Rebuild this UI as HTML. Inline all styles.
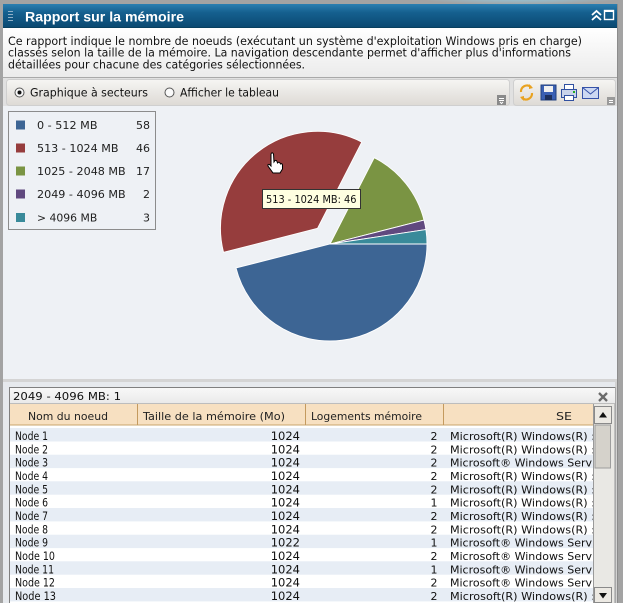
<!DOCTYPE html>
<html><head><meta charset="utf-8"><style>
html,body{margin:0;padding:0;background:#a3a3a3;}
svg{display:block;}
text{font-family:"DejaVu Sans","Liberation Sans",sans-serif;}
.t{font-family:"Liberation Sans",sans-serif;}
</style></head><body>
<svg width="623" height="603" viewBox="0 0 623 603" xmlns="http://www.w3.org/2000/svg">
<defs>
<linearGradient id="tg" x1="0" y1="0" x2="0" y2="1">
<stop offset="0" stop-color="#2b7fb1"/><stop offset="0.35" stop-color="#15608f"/><stop offset="1" stop-color="#0a4870"/>
</linearGradient>
<radialGradient id="hl" cx="0.5" cy="0" r="0.5">
<stop offset="0" stop-color="#8fd6f2" stop-opacity="0.9"/><stop offset="1" stop-color="#8fd6f2" stop-opacity="0"/>
</radialGradient>
<linearGradient id="dg" x1="0" y1="0" x2="0" y2="1">
<stop offset="0" stop-color="#ffffff"/><stop offset="1" stop-color="#ebebeb"/>
</linearGradient>
<linearGradient id="tb" x1="0" y1="0" x2="0" y2="1">
<stop offset="0" stop-color="#f6f5f3"/><stop offset="1" stop-color="#dddad5"/>
</linearGradient>
<linearGradient id="cg" x1="0" y1="0" x2="0" y2="1">
<stop offset="0" stop-color="#f8f8f8"/><stop offset="1" stop-color="#e9e9e9"/>
</linearGradient>
<clipPath id="seclip"><rect x="444" y="404" width="149" height="199"/></clipPath>
</defs>

<!-- frame -->
<rect x="0" y="0" width="623" height="603" fill="#a3a3a3"/>
<rect x="3" y="28" width="614" height="575" fill="#e3e6ea"/>

<!-- title bar -->
<rect x="3" y="4" width="614" height="24" fill="url(#tg)"/>
<ellipse cx="520" cy="5" rx="110" ry="9" fill="url(#hl)"/>
<line x1="3" y1="27.5" x2="617" y2="27.5" stroke="#08405f"/>
<g stroke="#8fb0c8" stroke-width="1">
<line x1="8" y1="11.5" x2="13" y2="11.5"/><line x1="8" y1="14.5" x2="13" y2="14.5"/>
<line x1="8" y1="17.5" x2="13" y2="17.5"/><line x1="8" y1="20.5" x2="13" y2="20.5"/>
</g>
<text x="25" y="21.5" font-size="13.5" font-weight="bold" fill="#fff" class="t" textLength="159" lengthAdjust="spacingAndGlyphs">Rapport sur la mémoire</text>
<g fill="none" stroke="#fff" stroke-width="1.8">
<polyline points="592,15 596.5,11 601,15"/>
<polyline points="592,20 596.5,16 601,20"/>
</g>
<rect x="604.5" y="10.5" width="9" height="9" fill="none" stroke="#fff" stroke-width="1.4"/>
<line x1="604" y1="11" x2="614" y2="11" stroke="#fff" stroke-width="2"/>

<!-- description -->
<rect x="3" y="28" width="614" height="49" fill="url(#dg)"/>
<line x1="3" y1="77.5" x2="617" y2="77.5" stroke="#a9a9a9"/>
<text x="8" y="45" font-size="11.5" fill="#111" textLength="574" lengthAdjust="spacingAndGlyphs">Ce rapport indique le nombre de noeuds (exécutant un système d'exploitation Windows pris en charge)</text>
<text x="8" y="56.7" font-size="11.5" fill="#111" textLength="563" lengthAdjust="spacingAndGlyphs">classés selon la taille de la mémoire. La navigation descendante permet d'afficher plus d'informations</text>
<text x="8" y="68.3" font-size="11.5" fill="#111" textLength="297" lengthAdjust="spacingAndGlyphs">détaillées pour chacune des catégories sélectionnées.</text>

<!-- toolbar -->
<rect x="3" y="78" width="614" height="28" fill="#e1e1e1"/>
<rect x="6.5" y="79.5" width="503" height="26" rx="3" fill="url(#tb)" stroke="#cfcfcf"/>
<rect x="513.5" y="79.5" width="102" height="26" rx="3" fill="url(#tb)" stroke="#cfcfcf"/>
<circle cx="19.5" cy="92.5" r="4.5" fill="#fafafa" stroke="#555"/>
<circle cx="19.5" cy="92.5" r="2" fill="#111"/>
<text x="30" y="96.5" font-size="11.5" fill="#111" textLength="118" lengthAdjust="spacingAndGlyphs">Graphique à secteurs</text>
<circle cx="169.5" cy="92.5" r="4.5" fill="#fafafa" stroke="#555"/>
<text x="180" y="96.5" font-size="11.5" fill="#111" textLength="99" lengthAdjust="spacingAndGlyphs">Afficher le tableau</text>
<rect x="497" y="95" width="9" height="10" fill="#8a8a8a"/>
<path d="M499,98.5 h5 M499,100.5 h5 M500,102 l1.5,1.5 l1.5,-1.5" stroke="#fff" stroke-width="1" fill="none"/>
<rect x="607" y="97" width="8" height="8" fill="#9a9a9a"/>
<path d="M609,100.5 h4 M609,102.5 h4" stroke="#fff" stroke-width="1"/>
<!-- refresh -->
<g fill="none" stroke="#e9a21f" stroke-width="2.2">
<path d="M521,92 a6,6 0 0 1 10,-5"/>
<path d="M532,93 a6,6 0 0 1 -10,5"/>
</g>
<path d="M529,84 l4,4 l-4,1 z M524,101 l-4,-4 l4,-1 z" fill="#e9a21f"/>
<!-- save -->
<rect x="541" y="85" width="15" height="15" fill="#3a5fb3" stroke="#23407e"/>
<rect x="544" y="86" width="9" height="6" fill="#f0f0f0"/>
<rect x="545" y="95" width="7" height="5" fill="#1d2f5c"/>
<!-- print -->
<rect x="564.5" y="84.5" width="9" height="6" fill="#fff" stroke="#3050a0"/>
<rect x="561.5" y="89.5" width="15" height="8" fill="#c9d3ea" stroke="#3050a0"/>
<rect x="564.5" y="95.5" width="9" height="5" fill="#fff" stroke="#3050a0"/>
<rect x="573" y="91" width="2" height="2" fill="#2a2"/>
<!-- mail -->
<rect x="582.5" y="87.5" width="16" height="11" fill="#cdd8f2" stroke="#3652a8"/>
<polyline points="582.5,87.5 590.5,94 598.5,87.5" fill="none" stroke="#3652a8"/>

<!-- chart area -->
<rect x="3" y="106" width="614" height="273" fill="#eef1f5"/>

<!-- legend -->
<rect x="8.5" y="111.5" width="147" height="118" fill="#eef1f5" stroke="#8c8c8c"/>
<rect x="16" y="120.5" width="9" height="9" fill="#3d6594"/>
<rect x="16" y="143.5" width="9" height="9" fill="#963d3d"/>
<rect x="16" y="166.5" width="9" height="9" fill="#7a9443"/>
<rect x="16" y="189.5" width="9" height="9" fill="#60497f"/>
<rect x="16" y="213" width="9" height="9" fill="#398a9a"/>
<g font-size="11" fill="#222">
<text x="37" y="129" textLength="60.5" lengthAdjust="spacingAndGlyphs">0 - 512 MB</text>
<text x="37" y="152" textLength="81.5" lengthAdjust="spacingAndGlyphs">513 - 1024 MB</text>
<text x="37" y="175" textLength="88.7" lengthAdjust="spacingAndGlyphs">1025 - 2048 MB</text>
<text x="37" y="198" textLength="88.7" lengthAdjust="spacingAndGlyphs">2049 - 4096 MB</text>
<text x="37" y="221.5" textLength="60.3" lengthAdjust="spacingAndGlyphs">&gt; 4096 MB</text>
<text x="150" y="129" text-anchor="end">58</text>
<text x="150" y="152" text-anchor="end">46</text>
<text x="150" y="175" text-anchor="end">17</text>
<text x="150" y="198" text-anchor="end">2</text>
<text x="150" y="221.5" text-anchor="end">3</text>
</g>

<!-- pie -->
<g stroke="#ffffff" stroke-width="0.9" stroke-linejoin="round">
<path d="M330,244 L427,244 A97,97 0 0 1 236.0,267.94 Z" fill="#3d6594"/>
<path d="M317.53,228.36 L223.53,252.30 A97,97 0 0 1 361.78,142.04 Z" fill="#963d3d"/>
<path d="M330,244 L374.25,157.68 A97,97 0 0 1 424.0,220.06 Z" fill="#7a9443"/>
<path d="M330,244 L424.0,220.06 A97,97 0 0 1 425.92,229.54 Z" fill="#60497f"/>
<path d="M330,244 L425.92,229.54 A97,97 0 0 1 427,244 Z" fill="#398a9a"/>
</g>

<!-- cursor -->
<path d="M271,154 Q272,151.5 273.5,154 L274,162 L275,160.5 Q276.5,160 277,161.5 L277.5,163 Q279,161.5 280,163 L280.5,164 Q282,163 282.5,165 L282.5,169 L280,173 L273,173 L268,166 Q267.5,163.8 269.5,164.5 L271,166 Z" fill="#fff" stroke="#000" stroke-width="1"/>

<!-- tooltip -->
<rect x="262.5" y="189.5" width="98" height="19" fill="#ffffe1" stroke="#333"/>
<text x="266" y="203" font-size="11" fill="#111" textLength="90.5" lengthAdjust="spacingAndGlyphs">513 - 1024 MB: 46</text>

<!-- separator -->
<rect x="3" y="379" width="614" height="3" fill="#d4d4d4"/>
<rect x="3" y="382" width="614" height="221" fill="#e6e9ed"/>
<rect x="615" y="382" width="2" height="221" fill="#d2d2d2"/>

<!-- grid panel -->
<rect x="9.5" y="387.5" width="605.5" height="220" fill="#ffffff" stroke="#7f7f7f"/>
<rect x="10" y="388" width="605" height="15.5" fill="url(#cg)"/>
<line x1="10" y1="403.5" x2="615" y2="403.5" stroke="#bdbdbd"/>
<text x="13" y="400" font-size="11" fill="#111" textLength="108" lengthAdjust="spacingAndGlyphs">2049 - 4096 MB: 1</text>
<g stroke="#6a6a6a" stroke-width="2.3">
<line x1="599" y1="393" x2="607" y2="401"/><line x1="607" y1="393" x2="599" y2="401"/>
</g>

<!-- header -->
<rect x="10" y="404" width="583" height="21" fill="#f7e0c1"/>
<line x1="10" y1="425" x2="593" y2="425" stroke="#c9a46b"/>
<g stroke="#c49a5e">
<line x1="137.5" y1="404" x2="137.5" y2="425"/>
<line x1="305.5" y1="404" x2="305.5" y2="425"/>
<line x1="443.5" y1="404" x2="443.5" y2="425"/>
</g>
<g font-size="11" fill="#222">
<text x="28" y="420" textLength="80" lengthAdjust="spacingAndGlyphs">Nom du noeud</text>
<text x="143" y="420" textLength="142" lengthAdjust="spacingAndGlyphs">Taille de la mémoire (Mo)</text>
<text x="311" y="420" textLength="111" lengthAdjust="spacingAndGlyphs">Logements mémoire</text>
<text x="556" y="420" textLength="16" lengthAdjust="spacingAndGlyphs">SE</text>
</g>

<!-- rows -->
<g fill="#e7edf5">
<rect x="10" y="428" width="583" height="13.5"/>
<rect x="10" y="454.7" width="583" height="13.4"/>
<rect x="10" y="481.3" width="583" height="13.4"/>
<rect x="10" y="508" width="583" height="13.4"/>
<rect x="10" y="534.7" width="583" height="13.4"/>
<rect x="10" y="561.3" width="583" height="13.4"/>
<rect x="10" y="588" width="583" height="13.4"/>
</g>
<g class="t" font-size="11.5" fill="#111">
<text x="15" y="440" textLength="33" lengthAdjust="spacingAndGlyphs">Node 1</text>
<text x="15" y="453.3" textLength="33" lengthAdjust="spacingAndGlyphs">Node 2</text>
<text x="15" y="466.7" textLength="33" lengthAdjust="spacingAndGlyphs">Node 3</text>
<text x="15" y="480" textLength="33" lengthAdjust="spacingAndGlyphs">Node 4</text>
<text x="15" y="493.3" textLength="33" lengthAdjust="spacingAndGlyphs">Node 5</text>
<text x="15" y="506.7" textLength="33" lengthAdjust="spacingAndGlyphs">Node 6</text>
<text x="15" y="520" textLength="33" lengthAdjust="spacingAndGlyphs">Node 7</text>
<text x="15" y="533.3" textLength="33" lengthAdjust="spacingAndGlyphs">Node 8</text>
<text x="15" y="546.7" textLength="33" lengthAdjust="spacingAndGlyphs">Node 9</text>
<text x="15" y="560" textLength="40" lengthAdjust="spacingAndGlyphs">Node 10</text>
<text x="15" y="573.3" textLength="39" lengthAdjust="spacingAndGlyphs">Node 11</text>
<text x="15" y="586.7" textLength="40" lengthAdjust="spacingAndGlyphs">Node 12</text>
<text x="15" y="600" textLength="41" lengthAdjust="spacingAndGlyphs">Node 13</text>
</g>
<g class="t" font-size="11.5" fill="#111" text-anchor="end">
<text x="300" y="440">1024</text>
<text x="300" y="453.3">1024</text>
<text x="300" y="466.7">1024</text>
<text x="300" y="480">1024</text>
<text x="300" y="493.3">1024</text>
<text x="300" y="506.7">1024</text>
<text x="300" y="520">1024</text>
<text x="300" y="533.3">1024</text>
<text x="300" y="546.7">1022</text>
<text x="300" y="560">1024</text>
<text x="300" y="573.3">1024</text>
<text x="300" y="586.7">1024</text>
<text x="300" y="600">1024</text>
</g>
<g font-size="11" fill="#111" text-anchor="end">
<text x="437.5" y="440">2</text>
<text x="437.5" y="453.3">2</text>
<text x="437.5" y="466.7">2</text>
<text x="437.5" y="480">2</text>
<text x="437.5" y="493.3">2</text>
<text x="437.5" y="506.7">1</text>
<text x="437.5" y="520">2</text>
<text x="437.5" y="533.3">2</text>
<text x="437.5" y="546.7">1</text>
<text x="437.5" y="560">2</text>
<text x="437.5" y="573.3">1</text>
<text x="437.5" y="586.7">2</text>
<text x="437.5" y="600">2</text>
</g>
<g font-size="11" fill="#111" clip-path="url(#seclip)">
<text x="450" y="440" textLength="145" lengthAdjust="spacingAndGlyphs">Microsoft(R) Windows(R) :</text>
<text x="450" y="453.3" textLength="145" lengthAdjust="spacingAndGlyphs">Microsoft(R) Windows(R) :</text>
<text x="450" y="466.7" textLength="142" lengthAdjust="spacingAndGlyphs">Microsoft® Windows Serv</text>
<text x="450" y="480" textLength="145" lengthAdjust="spacingAndGlyphs">Microsoft(R) Windows(R) :</text>
<text x="450" y="493.3" textLength="145" lengthAdjust="spacingAndGlyphs">Microsoft(R) Windows(R) :</text>
<text x="450" y="506.7" textLength="145" lengthAdjust="spacingAndGlyphs">Microsoft(R) Windows(R) :</text>
<text x="450" y="520" textLength="145" lengthAdjust="spacingAndGlyphs">Microsoft(R) Windows(R) :</text>
<text x="450" y="533.3" textLength="145" lengthAdjust="spacingAndGlyphs">Microsoft(R) Windows(R) :</text>
<text x="450" y="546.7" textLength="142" lengthAdjust="spacingAndGlyphs">Microsoft® Windows Serv</text>
<text x="450" y="560" textLength="142" lengthAdjust="spacingAndGlyphs">Microsoft® Windows Serv</text>
<text x="450" y="573.3" textLength="142" lengthAdjust="spacingAndGlyphs">Microsoft® Windows Serv</text>
<text x="450" y="586.7" textLength="142" lengthAdjust="spacingAndGlyphs">Microsoft® Windows Serv</text>
<text x="450" y="600" textLength="145" lengthAdjust="spacingAndGlyphs">Microsoft(R) Windows(R) :</text>
</g>

<!-- scrollbar -->
<rect x="593" y="404" width="21" height="199" fill="#e9e8e4"/>
<line x1="593.5" y1="404" x2="593.5" y2="603" stroke="#9a9a9a"/>
<rect x="594.5" y="406.5" width="17" height="17" fill="#ece9e3" stroke="#8a8a8a"/>
<path d="M599,417.5 L603,412 L607,417.5 Z" fill="#111"/>
<rect x="595" y="425" width="15.5" height="43" fill="#d5d2cb" stroke="#9d9d9d"/>
<rect x="594.5" y="587.5" width="17" height="15" fill="#ece9e3" stroke="#8a8a8a"/>
<path d="M599,593 L607,593 L603,598.5 Z" fill="#111"/>

<!-- right frame -->
<rect x="617" y="0" width="6" height="603" fill="#a3a3a3"/>
<line x1="617.5" y1="4" x2="617.5" y2="603" stroke="#8c8c8c"/>
</svg>
</body></html>
